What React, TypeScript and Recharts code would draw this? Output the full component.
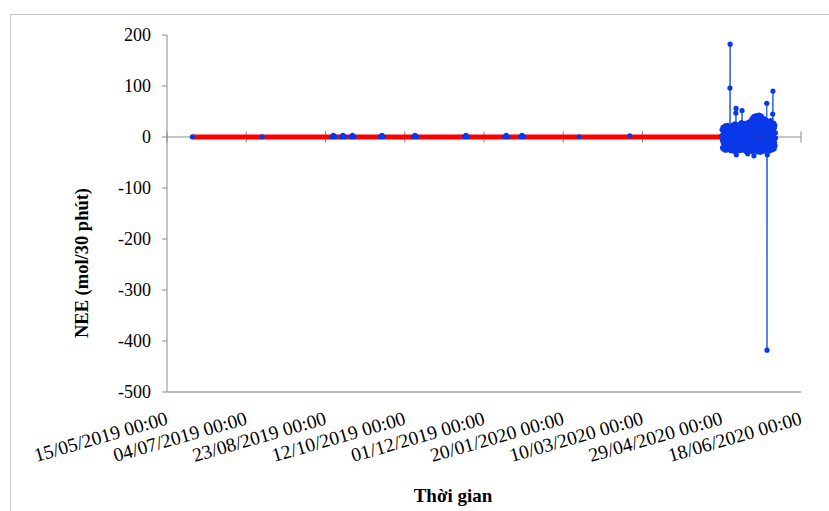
import React from 'react';
import { LineChart, Line, XAxis, YAxis, ReferenceLine, Label } from 'recharts';

// x positions are days since 15/05/2019 00:00
const tickDays = [0, 50, 100, 150, 200, 250, 300, 350, 400];
const tickLabels = [
  '15/05/2019 00:00',
  '04/07/2019 00:00',
  '23/08/2019 00:00',
  '12/10/2019 00:00',
  '01/12/2019 00:00',
  '20/01/2020 00:00',
  '10/03/2020 00:00',
  '29/04/2020 00:00',
  '18/06/2020 00:00',
];
const yTicks = [-500, -400, -300, -200, -100, 0, 100, 200];

// NEE, quiet period (sparse readings)
const flatDays = [16, 60, 104, 105, 106, 110, 111, 112, 116, 117, 118, 134.5, 135.6, 136.5, 155.5, 156.5, 157.5, 187.6, 188.6, 189.6, 213, 214, 215, 223, 224, 225, 260, 292, 349.9];
const flatValues = [0.3, 0.3, 0.5, 3, 0.5, 0.5, 3, 0.5, 0.5, 3, 0.5, 0.5, 3, 0.5, 0.5, 3, 0.5, 0.5, 3, 0.5, 0.5, 3, 0.5, 0.5, 3, 0.5, 0.5, 2.5, 2.5];

// NEE, active period from 29/04/2020 (sampled every 0.15 day)
const clusterStartDay = 350.2;
const clusterStepDays = 0.15;
const clusterValues = [
  14, -6, -21, 3, 19, -12, 7, -24, 0, 16,
  -9, -18, 5, 22, -3, -26, 10, -14, 2, 17,
  -20, -7, 12, 23, -11, -25, 4, 15, -16, 8,
  -2, 20, -22, 96, 182, -13, 6, 18, -27, 1,
  13, -8, -23, 9, 21, -17, -4, 24, -19, 11,
  -1, -28, 7, 16, -10, 26, -21, 3, 47, 56,
  -35, 5, 19, -15, -6, 22, -24, 10, 0, 17,
  -12, -27, 8, 25, -5, -20, 14, 2, -23, 18,
  -9, 28, -17, 4, 52, -26, 11, -3, 21, -14,
  6, -22, 15, -7, 27, -25, 9, -11, 20, 1,
  -18, 13, -29, 24, -4, 17, -21, 8, -33, 19,
  -10, 29, -16, 3, -26, 22, -6, 12, -24, 26,
  -13, 5, 31, -20, 14, -28, 36, -2, 18, -15,
  33, -23, 9, 40, -37, 25, -8, 38, -19, 15,
  -27, 30, 4, -14, 42, -22, 20, -5, 35, -29,
  11, 39, -17, 26, -25, 7, 43, -11, 32, -21,
  17, -30, 37, 2, -16, 41, -24, 22, -7, 34,
  -20, 13, -28, 29, 6, -13, 36, -25, 19, -3,
  31, -18, 10, -26, 24, -9, 33, -22, 66, -418,
  -35, 15, 28, -14, 5, -24, 30, -6, 21, -19,
  12, -27, 26, 0, -12, 32, -21, 17, -4, 25,
  -16, 9, -25, 45, 90, -20, 14, -8, 27, -23,
  18, -11, 23, -17, 8, -2,
];

// red trend line
const trendDays = [16, 100, 200, 300, 384];
const trendValues = [0, 0, 0, 0, 0];

const blueData = flatDays
  .map((d, i) => ({ day: d, v: flatValues[i] }))
  .concat(clusterValues.map((v, i) => ({ day: clusterStartDay + i * clusterStepDays, v })));
const redData = trendDays.map((d, i) => ({ day: d, v: trendValues[i] }));

const SERIF = "'Liberation Serif', 'Times New Roman', Times, serif";
const GRAY = '#a6a6a6';
const AXIS = '#8c8c8c';

const XTick = (props: any) => {
  const { x, y, payload } = props;
  const idx = tickDays.indexOf(payload.value);
  const label = idx >= 0 ? tickLabels[idx] : '';
  return (
    <g transform={`translate(${x + 2},${y + 24}) rotate(-16)`}>
      <text x={0} y={0} textAnchor="end" fontSize={19.5} fontFamily={SERIF} style={{ fontFamily: SERIF }} fill="#000">
        {label}
      </text>
    </g>
  );
};

export default function App() {
  return (
    <div style={{ position: 'absolute', left: 0, top: 0, width: 829, height: 511, overflow: 'hidden', background: '#fff' }}>
      <div style={{ position: 'absolute', left: 10, top: 14, width: 900, height: 600, border: '1px solid #c6c6c6', boxSizing: 'border-box' }} />
      <div style={{ position: 'absolute', left: 0, top: 0 }}>
        <LineChart width={829} height={511} margin={{ top: 35, right: 28, bottom: 59, left: 107 }}>
          <XAxis
            dataKey="day"
            type="number"
            domain={[0, 400]}
            ticks={tickDays}
            interval={0}
            allowDataOverflow
            height={60}
            axisLine={{ stroke: GRAY, strokeWidth: 1.5 }}
            tickLine={false}
            tick={<XTick />}
          >
            <Label
              content={() => (
                <text x={453} y={495} textAnchor="middle" dominantBaseline="central" fontSize={19} fontWeight="bold" fontFamily={SERIF} style={{ fontFamily: SERIF }} fill="#000">
                  Thời gian
                </text>
              )}
            />
          </XAxis>
          <XAxis
            xAxisId="top"
            orientation="top"
            type="number"
            dataKey="day"
            domain={[0, 400]}
            height={0}
            tick={false}
            tickLine={false}
            axisLine={{ stroke: GRAY, strokeWidth: 1.5 }}
          />
          <YAxis
            type="number"
            domain={[-500, 200]}
            ticks={yTicks}
            interval={0}
            width={60}
            axisLine={{ stroke: AXIS }}
            tickLine={{ stroke: AXIS }}
            tickSize={5}
            tickMargin={11}
            tick={{ fontSize: 18, fontFamily: SERIF, fill: '#000', style: { fontFamily: SERIF } }}
          >
            <Label
              content={() => (
                <text x={82} y={263} transform="rotate(-90, 82, 263)" textAnchor="middle" dominantBaseline="central" fontSize={18.5} fontWeight="bold" fontFamily={SERIF} style={{ fontFamily: SERIF }} fill="#000">
                  NEE (mol/30 phút)
                </text>
              )}
            />
          </YAxis>
          <YAxis
            yAxisId="right"
            orientation="right"
            type="number"
            domain={[-500, 200]}
            width={0}
            tick={false}
            tickLine={false}
            axisLine={{ stroke: GRAY, strokeWidth: 1.5 }}
          />
          <ReferenceLine y={0} stroke={AXIS} strokeWidth={1} />
          {tickDays.map((d) => (
            <ReferenceLine
              key={d}
              segment={[{ x: d, y: -11 }, { x: d, y: 11 }]}
              stroke={AXIS}
              strokeWidth={1}
            />
          ))}
          <Line
            data={blueData}
            dataKey="v"
            type="linear"
            stroke="#2a5cf0"
            strokeWidth={1}
            dot={{ r: 2.6, fill: '#0838e8', stroke: '#0838e8', strokeWidth: 0 }}
            isAnimationActive={false}
          />
          <Line
            data={redData}
            dataKey="v"
            type="linear"
            stroke="#ff0000"
            strokeWidth={5}
            dot={false}
            isAnimationActive={false}
          />
        </LineChart>
      </div>
    </div>
  );
}
